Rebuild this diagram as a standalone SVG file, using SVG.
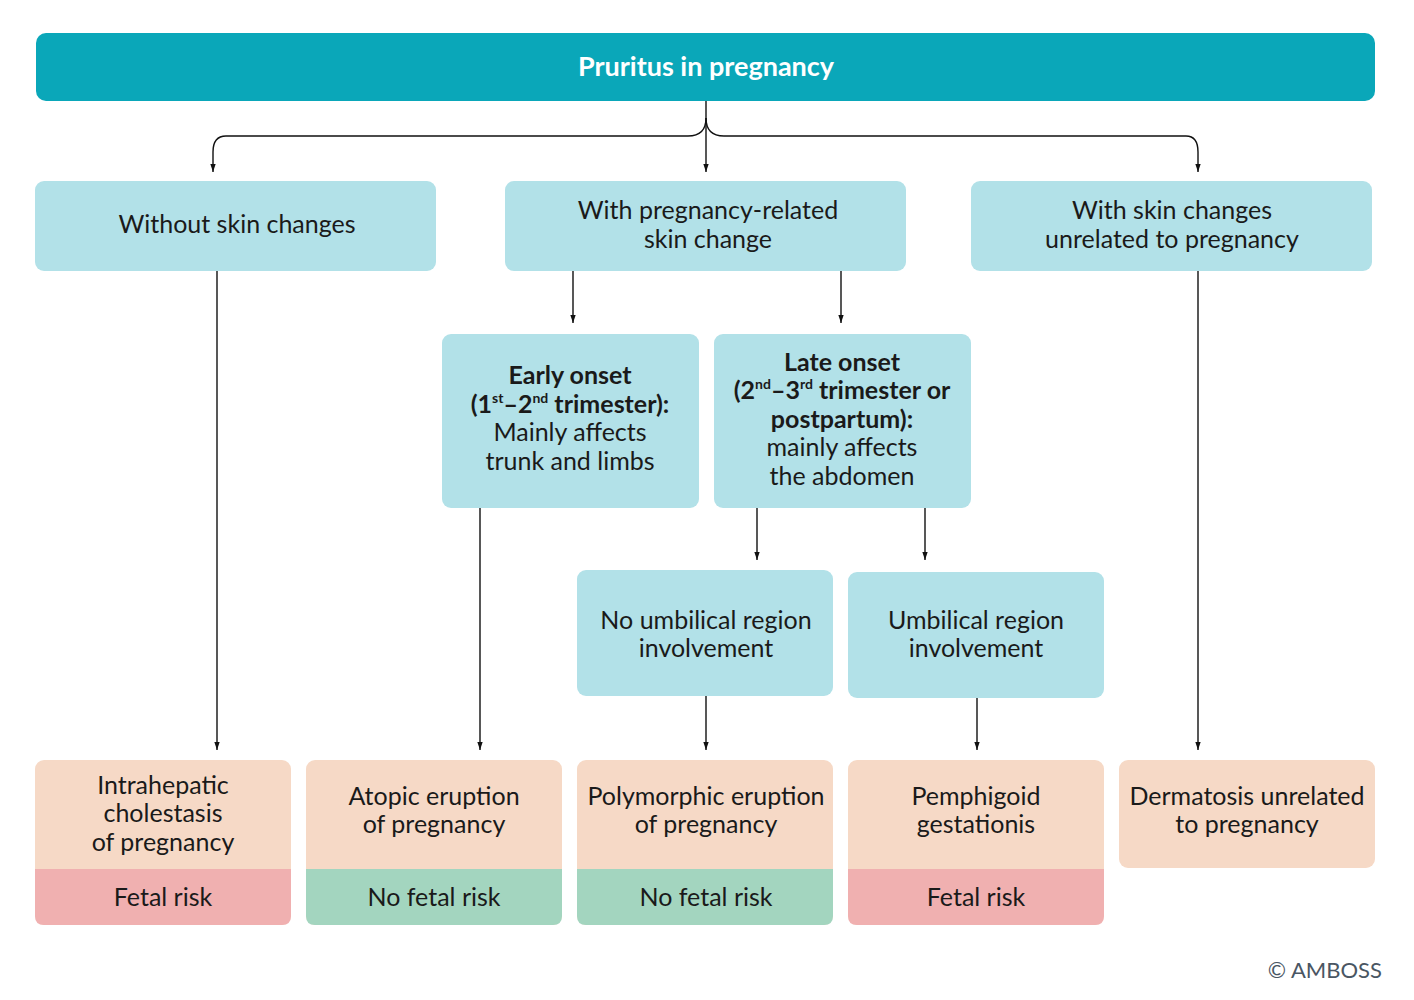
<svg xmlns="http://www.w3.org/2000/svg" width="1414" height="1000" viewBox="0 0 1414 1000">
<style>
text{font-family:Lato,"Noto Sans","Liberation Sans",sans-serif;font-size:25px;fill:#1a1a1a;text-anchor:middle}
.b{font-weight:bold}
.t{fill:#fff;font-weight:bold;font-size:27px}
.c{fill:#b2e1e8}
.p{fill:#f6d9c6}
.r{fill:#f0b0b0}
.g{fill:#a3d5bf}
.ln{stroke:#111;stroke-width:1.4;fill:none}
.cp{font-size:22px;fill:#4a5663;text-anchor:end}
</style>
<defs>
<marker id="a" markerWidth="8" markerHeight="12" refX="12" refY="4" orient="auto" markerUnits="userSpaceOnUse" viewBox="0 0 12 8">
<path d="M0,0 L12,4 L0,8 Z" fill="#111"/>
</marker>
</defs>
<g id="title">
<rect x="36" y="33" width="1339" height="68" rx="10" fill="#0aa7b9"/>
<text class="t" x="706" y="76">Pruritus in pregnancy</text>
</g>
<g id="connectors">
<path class="ln" d="M706,101 L706,172" marker-end="url(#a)"/>
<path class="ln" d="M706,118 Q706,136 688,136 L226,136 Q213,136 213,152 L213,172" marker-end="url(#a)"/>
<path class="ln" d="M706,118 Q706,136 724,136 L1186,136 Q1198,136 1198,152 L1198,172" marker-end="url(#a)"/>
<path class="ln" d="M573,271 L573,323" marker-end="url(#a)"/>
<path class="ln" d="M841,271 L841,323" marker-end="url(#a)"/>
<path class="ln" d="M757,508 L757,560" marker-end="url(#a)"/>
<path class="ln" d="M925,508 L925,560" marker-end="url(#a)"/>
<path class="ln" d="M217,271 L217,750" marker-end="url(#a)"/>
<path class="ln" d="M480,508 L480,750" marker-end="url(#a)"/>
<path class="ln" d="M706,696 L706,750" marker-end="url(#a)"/>
<path class="ln" d="M977,698 L977,750" marker-end="url(#a)"/>
<path class="ln" d="M1198,271 L1198,750" marker-end="url(#a)"/>
</g>
<g id="without">
<rect class="c" x="35" y="181" width="401" height="90" rx="9"/>
<text x="237" y="233">Without skin changes</text>
</g>
<g id="related">
<rect class="c" x="505" y="181" width="401" height="90" rx="9"/>
<text x="708" y="219">With pregnancy-related</text>
<text x="708" y="248">skin change</text>
</g>
<g id="unrelated">
<rect class="c" x="971" y="181" width="401" height="90" rx="9"/>
<text x="1172" y="219">With skin changes</text>
<text x="1172" y="248">unrelated to pregnancy</text>
</g>
<g id="early">
<rect class="c" x="442" y="334" width="257" height="174" rx="9"/>
<text class="b" x="570" y="384">Early onset</text>
<text class="b" x="570" y="413">(1<tspan font-size="14" dy="-10">st</tspan><tspan dy="10">–2</tspan><tspan font-size="14" dy="-10">nd</tspan><tspan dy="10"> trimester):</tspan></text>
<text x="570" y="441">Mainly affects</text>
<text x="570" y="470">trunk and limbs</text>
</g>
<g id="late">
<rect class="c" x="714" y="334" width="257" height="174" rx="9"/>
<text class="b" x="842" y="371">Late onset</text>
<text class="b" x="842" y="399">(2<tspan font-size="14" dy="-10">nd</tspan><tspan dy="10">–3</tspan><tspan font-size="14" dy="-10">rd</tspan><tspan dy="10"> trimester or</tspan></text>
<text class="b" x="842" y="428">postpartum):</text>
<text x="842" y="456">mainly affects</text>
<text x="842" y="485">the abdomen</text>
</g>
<g id="nounbilical">
<rect class="c" x="577" y="570" width="256" height="126" rx="9"/>
<text x="706" y="629">No umbilical region</text>
<text x="706" y="657">involvement</text>
</g>
<g id="umbilical">
<rect class="c" x="848" y="572" width="256" height="126" rx="9"/>
<text x="976" y="629">Umbilical region</text>
<text x="976" y="657">involvement</text>
</g>
<g id="icp">
<rect class="p" x="35" y="760" width="256" height="165" rx="9"/>
<path class="r" d="M35,869 H291 V916 Q291,925 282,925 H44 Q35,925 35,916 Z"/>
<text x="163" y="794">Intrahepatic</text>
<text x="163" y="822">cholestasis</text>
<text x="163" y="851">of pregnancy</text>
<text x="163" y="906">Fetal risk</text>
</g>
<g id="atopic">
<rect class="p" x="306" y="760" width="256" height="165" rx="9"/>
<path class="g" d="M306,869 H562 V916 Q562,925 553,925 H315 Q306,925 306,916 Z"/>
<text x="434" y="805">Atopic eruption</text>
<text x="434" y="833">of pregnancy</text>
<text x="434" y="906">No fetal risk</text>
</g>
<g id="polymorphic">
<rect class="p" x="577" y="760" width="256" height="165" rx="9"/>
<path class="g" d="M577,869 H833 V916 Q833,925 824,925 H586 Q577,925 577,916 Z"/>
<text x="706" y="805">Polymorphic eruption</text>
<text x="706" y="833">of pregnancy</text>
<text x="706" y="906">No fetal risk</text>
</g>
<g id="pemphigoid">
<rect class="p" x="848" y="760" width="256" height="165" rx="9"/>
<path class="r" d="M848,869 H1104 V916 Q1104,925 1095,925 H857 Q848,925 848,916 Z"/>
<text x="976" y="805">Pemphigoid</text>
<text x="976" y="833">gestationis</text>
<text x="976" y="906">Fetal risk</text>
</g>
<g id="dermatosis">
<rect class="p" x="1119" y="760" width="256" height="108" rx="9"/>
<text x="1247" y="805">Dermatosis unrelated</text>
<text x="1247" y="833">to pregnancy</text>
</g>
<text class="cp" x="1382" y="978">© AMBOSS</text>
</svg>
